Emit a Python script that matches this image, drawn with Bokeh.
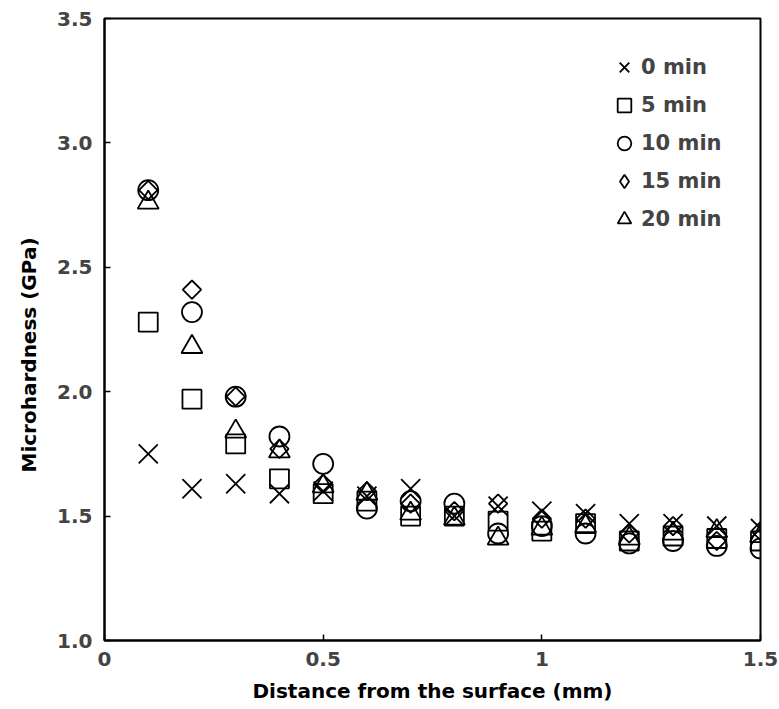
import math
from bokeh.plotting import figure
from bokeh.models import (Range1d, FixedTicker, CustomJSTickFormatter, Legend, LegendItem, Title)
from bokeh.embed import file_html
from bokeh.resources import INLINE

distance = [0.1, 0.2, 0.3, 0.4, 0.5, 0.6, 0.7, 0.8, 0.9, 1.0, 1.1, 1.2, 1.3, 1.4, 1.5]
h_0min = [1.75, 1.61, 1.63, 1.59, 1.60, 1.58, 1.61, 1.50, 1.54, 1.52, 1.51, 1.47, 1.47, 1.46, 1.45]
h_5min = [2.28, 1.97, 1.79, 1.65, 1.59, 1.56, 1.50, 1.50, 1.48, 1.44, 1.47, 1.40, 1.42, 1.41, 1.40]
h_10min = [2.81, 2.32, 1.98, 1.82, 1.71, 1.53, 1.56, 1.55, 1.43, 1.46, 1.43, 1.39, 1.40, 1.38, 1.37]
h_15min = [2.81, 2.41, 1.98, 1.77, 1.63, 1.60, 1.55, 1.52, 1.55, 1.49, 1.49, 1.43, 1.46, 1.40, 1.44]
h_20min = [2.76, 2.18, 1.84, 1.76, 1.62, 1.59, 1.51, 1.49, 1.41, 1.45, 1.46, 1.41, 1.43, 1.44, 1.42]

series_labels = ["0 min", "5 min", "10 min", "15 min", "20 min"]
series_values = [h_0min, h_5min, h_10min, h_15min, h_20min]
x_ticks = [0, 0.5, 1, 1.5]
y_ticks = [1.0, 1.5, 2.0, 2.5, 3.0, 3.5]
x_title = "Distance from the surface (mm)"
y_title = "Microhardness (GPa)"

# marker styles: (plot marker, size, angle, legend marker)
styles = [("x", 27, 0, "x"), ("square", 19, 0, "square"), ("circle", 20, 0, "circle"),
          ("square", 13, math.pi / 4, "diamond"), ("triangle", 21, 0, "triangle")]

FONT = "DejaVu Sans"

p = figure(width=779, height=709, output_backend="svg", toolbar_location=None,
           x_range=Range1d(0, 1.5), y_range=Range1d(1.0, 3.5),
           min_border_left=103, min_border_top=18, min_border_right=19, min_border_bottom=69)
p.grid.visible = False
p.outline_line_color = "black"
p.outline_line_width = 2
p.background_fill_color = "white"
p.border_fill_color = "white"
# an off-screen range used only by the legend's sample glyph
p.extra_x_ranges = {"legend_only": Range1d(100, 101)}

items = []
for label, vals, (marker, size, angle, lmarker) in zip(series_labels, series_values, styles):
    r = p.scatter(distance, vals, marker=marker, size=size, angle=angle, fill_color=None,
                  line_color="black", line_width=1.8)
    if lmarker != marker:
        r = p.scatter(distance, vals, marker=lmarker, size=size, fill_color=None,
                      line_color="black", line_width=1.8, x_range_name="legend_only")
    items.append(LegendItem(label=label, renderers=[r]))

for ax in (p.xaxis[0], p.yaxis[0]):
    ax.axis_line_width = 2
    ax.axis_line_color = "black"
    ax.major_tick_in = 6
    ax.major_tick_out = 0
    ax.major_tick_line_width = 1.5
    ax.minor_tick_line_color = None
    ax.major_label_text_font = FONT
    ax.major_label_text_font_style = "bold"
    ax.major_label_text_font_size = "20px"
    ax.major_label_text_color = "#444444"
    ax.axis_label_text_font = FONT
    ax.axis_label_text_font_style = "bold"
    ax.axis_label_text_color = "black"

p.xaxis.axis_label_text_font_size = "20px"
p.xaxis.ticker = FixedTicker(ticks=x_ticks)
p.yaxis.ticker = FixedTicker(ticks=y_ticks)
p.xaxis.formatter = CustomJSTickFormatter(code="return String(tick);")
p.yaxis.formatter = CustomJSTickFormatter(code="return tick.toFixed(1);")
p.xaxis.axis_label = x_title
p.xaxis.major_label_standoff = 11
p.yaxis.major_label_standoff = 12
p.xaxis.axis_label_standoff = 10

ytitle = Title(text=y_title, align="left", offset=168, standoff=28,
               text_font=FONT, text_font_style="bold", text_font_size="20px",
               text_color="black")
p.add_layout(ytitle, "left")

legend = Legend(items=items, location=(503, 404), border_line_color=None,
                background_fill_alpha=0, spacing=4, glyph_width=34, glyph_height=34,
                label_text_font=FONT, label_text_font_style="bold",
                label_text_font_size="21px", label_standoff=0, padding=0, margin=0)
p.add_layout(legend)

open("out.html", "w").write(file_html(p, INLINE))
